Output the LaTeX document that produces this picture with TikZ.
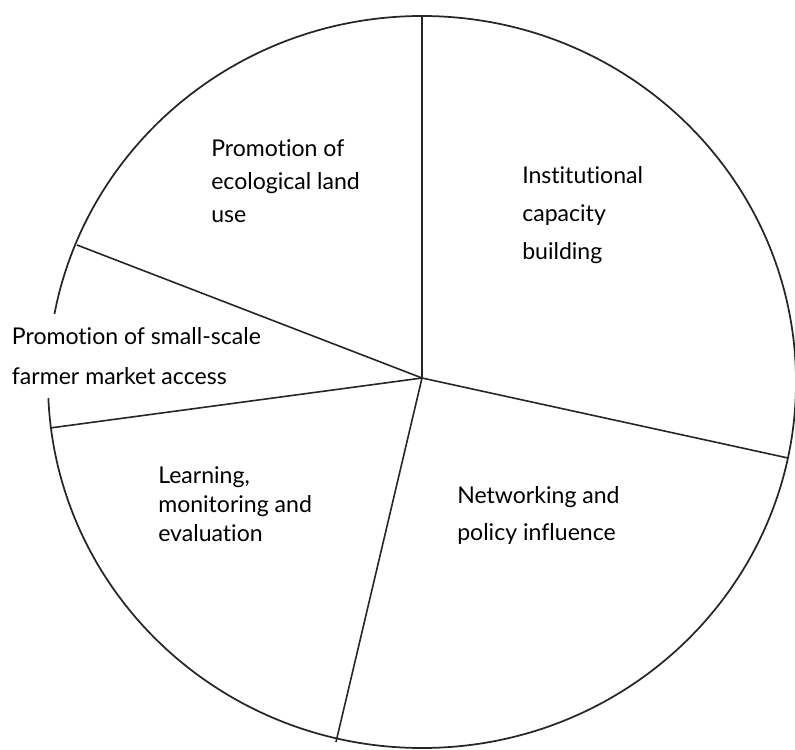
\documentclass[tikz,border=0pt]{standalone}
\usepackage{fontspec}
\setmainfont{Lato}[Ligatures={NoCommon}]
\usetikzlibrary{positioning}
\begin{document}
\begin{tikzpicture}[x=0.75pt,y=-0.75pt,
  slice/.style={align=left,anchor=base west,inner sep=0pt},
  spoke/.style={line width=1.2pt,color=black!85}]
\useasboundingbox (0,0) rectangle (795,749);
\draw[line width=1.3pt,color=black!85] (422,382) ellipse [x radius=374, y radius=366];
% text of the sectors
\node[slice,fill=white,inner xsep=8pt,inner ysep=10pt,font=\fontsize{17.3}{30}\selectfont] (t3) at (1,384) {Promotion of small-scale\\farmer market access};
\node[slice,font=\fontsize{17.3}{24.75}\selectfont] (t1) at (211,222) {Promotion of\\ecological land\\use};
\node[slice,font=\fontsize{17.3}{28.5}\selectfont] (t2) at (522,259) {Institutional\\capacity\\building};
\node[slice,font=\fontsize{17.3}{21.75}\selectfont] (t4) at (158,541) {Learning,\\monitoring and\\evaluation};
\node[slice,font=\fontsize{17.3}{27.5}\selectfont] (t5) at (457,540) {Networking and\\policy influence};
% spokes
\coordinate (c) at (422,378);
\coordinate (p1) at (422,16);
\coordinate (p2) at (77,245);
\coordinate (p3) at (50,428);
\coordinate (p4) at (336,742);
\coordinate (p5) at (788,458);
\foreach \p in {p1,p2,p3,p4,p5}
  \draw[spoke] (c) -- (\p);
\end{tikzpicture}
\end{document}
